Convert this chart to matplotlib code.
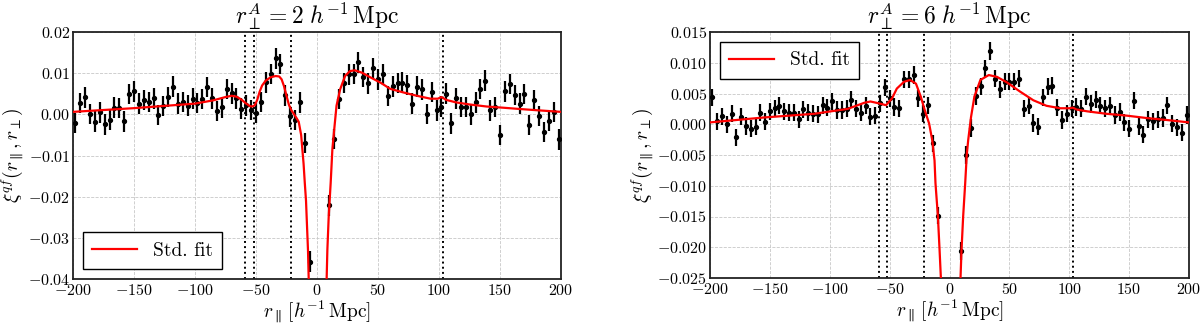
import numpy as np
import matplotlib
matplotlib.use("Agg")
import matplotlib.pyplot as plt
from matplotlib.ticker import MultipleLocator, FuncFormatter

plt.rcParams['font.family'] = 'serif'
plt.rcParams['font.serif'] = ['cmr10']
plt.rcParams['mathtext.fontset'] = 'cm'
plt.rcParams['axes.formatter.use_mathtext'] = True

# ---------------- data ----------------
r_par = np.arange(-198, 199, 4)  # bin centres [h^-1 Mpc]

# left panel: r_perp = 2 h^-1 Mpc  (values x 1e-3)
xi_left = [-2.1, 2.8, 4.1, 0.1, -1.8, 0.5, -2.4, -1.4, 1.6, 1.5,
           -1.7, 4.9, 5.6, 2.6, 3.5, 3.0, 3.9, -0.2, 2.0, 4.2,
           6.7, 2.6, 3.0, 2.1, 3.8, 2.8, 3.7, 6.6, 3.9, 0.8,
           1.7, 6.2, 5.1, 3.9, 1.4, 2.2, 1.1, 0.3, 3.0, 7.8,
           9.8, 13.6, 12.2, 4.6, -0.5, -1.4, 2.9,
           -7.0, -35.8, -60.0, -70.0, -55.0, -22.1,
           -6.0, 3.7, 7.6, 9.7, 9.8, 12.6, 9.1, 7.5, 11.2, 8.5,
           9.7, 4.5, 6.8, 7.6, 7.7, 7.1, 2.6, 6.7, 6.1, 0.1,
           5.4, 1.0, 1.9, 5.0, -2.2, 3.9, 1.8, 1.8, 0.0, 2.9,
           6.2, 8.2, 1.0, 1.8, -5.0, 5.6, 7.4, 4.7, 2.6, 4.9,
           -2.6, 3.5, -0.4, -4.3, -1.5, 0.6, -6.1]
err_left = 2.5  # x 1e-3

# right panel: r_perp = 6 h^-1 Mpc  (values x 1e-3)
xi_right = [4.4, 0.5, 1.3, 0.0, 1.7, -2.1, 1.2, -0.3, -0.7, -0.4,
            1.9, 0.4, 2.1, 2.6, 3.0, 2.1, 1.9, 1.9, 0.8, 2.4,
            1.9, 1.7, 1.6, 3.1, 2.7, 3.7, 2.3, 2.3, 2.5, 4.0,
            2.5, 1.9, 3.0, 1.2, 1.4, 3.4, 6.0, 4.2, 2.8, 2.6,
            7.3, 7.3, 8.0, 4.2, 1.7, 3.1,
            -3.1, -14.9, -40.0, -50.0, -45.0, -35.0, -20.6,
            -5.0, -0.6, 4.6, 6.2, 9.1, 11.9, 7.4, 5.7, 6.9, 6.9,
            6.9, 7.4, 2.5, 3.0, 0.2, -0.4, 4.4, 6.1, 6.3, 2.7,
            0.7, 1.7, 2.6, 2.8, 2.5, 4.5, 3.3, 4.0, 3.0, 2.6,
            3.0, 1.5, 2.0, 0.3, -0.7, 3.8, -0.3, -1.7, 0.8, 0.5,
            0.8, 1.0, 3.1, 0.1, -0.5, -1.4, 1.5]
err_right = 1.4  # x 1e-3

# best-fit model curves (x 1e-3)
fit_x_left = [-200, -150, -100, -85, -75, -70, -66, -62, -58, -55, -53, -51, -49,
              -47, -45, -42, -38, -34, -31, -29, -27, -25, -23, -21, -19, -17,
              -15, -13, -12, -11, -10, -9, -8.5, -7.4, -6.8, -5, 0, 6, 7.9, 8.5,
              9.6, 11.2, 12.6, 13.4, 14.5, 16, 19, 23, 27, 31, 37, 43, 52, 60,
              71, 82, 93, 99, 102, 106, 114, 125, 139, 153, 166, 180, 200]
fit_y_left = [0.6, 1.5, 2.6, 3.4, 4.2, 4.5, 4.3, 3.6, 2.6, 2.0, 1.9, 2.2, 3.5,
              5.5, 7.0, 8.2, 9.0, 9.3, 9.2, 8.5, 6.8, 4.5, 2.3, 1.0, 0.1, -0.8,
              -1.8, -5.0, -8.5, -12.0, -16.7, -21.0, -24.8, -32.9, -40.0, -50.0, -70.0, -50.0, -40.0, -32.9,
              -24.8, -16.7, -8.5, -5.9, -2.5, 2.1, 6.1, 9.3, 10.5, 10.7, 10.1, 9.1, 7.7, 6.2,
              5.3, 4.5, 3.8, 3.8, 4.2, 3.5, 2.9, 2.4, 1.9, 1.6, 1.3, 1.0, 0.6]

fit_x_right = [-200, -155, -113, -85, -71, -66, -59, -53, -48, -44, -38, -33, -28,
               -24, -21, -17, -14.4, -12.5, -11.7, -9.7, -8.3, -7.2, -5, 0, 6, 9.2,
               10, 11.4, 13.1, 14.4, 15.6, 18, 20.8, 25.8, 32.8, 39.7, 48, 59, 70,
               81, 92.5, 100, 103, 106, 115, 131, 148, 165, 181, 200]
fit_y_right = [0.3, 1.1, 1.7, 2.5, 3.5, 3.7, 3.4, 3.1, 4.2, 5.8, 6.9, 7.2, 6.6,
               4.5, 2.5, 0.1, -2.6, -5.9, -9.6, -14.9, -20.4, -25.0, -35.0, -45.0, -35.0, -25.0,
               -20.6, -15.0, -9.6, -5.0, -2.6, 1.2, 4.5, 7.2, 8.0, 7.7, 6.8, 5.3, 3.9,
               3.0, 2.6, 2.6, 2.7, 2.4, 2.1, 1.7, 1.4, 1.0, 0.7, 0.3]

vlines = [-59, -52, -21, 103]
titles = [r'$r_\perp^A = 2\ h^{-1}\,\mathrm{Mpc}$', r'$r_\perp^A = 6\ h^{-1}\,\mathrm{Mpc}$']
ylims = [(-0.04, 0.02), (-0.025, 0.015)]
ysteps = [0.01, 0.005]
yfmts = ['%.2f', '%.3f']
legend_locs = ['lower left', 'upper left']

# ---------------- figure ----------------
fig = plt.figure(figsize=(12, 3.25), dpi=100)
axL = fig.add_axes([73/1200, 1-279/325, (561-73)/1200, (279-32)/325])
axR = fig.add_axes([710/1200, 1-278/325, (1189-710)/1200, (278-32)/325])

panels = [
    (axL, xi_left, err_left, fit_x_left, fit_y_left),
    (axR, xi_right, err_right, fit_x_right, fit_y_right),
]

for i, (ax, xi, err, fx, fy) in enumerate(panels):
    xi = np.asarray(xi) * 1e-3
    ax.errorbar(r_par, xi, yerr=err * 1e-3, fmt='o', color='black', ms=2.8,
                elinewidth=1.6, capsize=0, zorder=3)
    ax.plot(fx, np.asarray(fy) * 1e-3, color='red', lw=1.6, zorder=4, label='Std. fit')
    for v in vlines:
        ax.axvline(v, color='black', ls=':', lw=1.4, zorder=2)
    ax.set_xlim(-200, 200)
    ax.set_ylim(*ylims[i])
    ax.xaxis.set_major_locator(MultipleLocator(50))
    ax.yaxis.set_major_locator(MultipleLocator(ysteps[i]))
    fmt = yfmts[i]
    ax.yaxis.set_major_formatter(FuncFormatter(lambda v, p, f=fmt: r'$%s$' % (f % v if abs(v) > 1e-12 else f % 0.0)))
    ax.xaxis.set_major_formatter(FuncFormatter(lambda v, p: r'$%d$' % round(v)))
    ax.grid(True, color='#c8c8c8', ls='--', lw=0.6)
    ax.set_axisbelow(True)
    ax.tick_params(length=0, labelsize=11.5)
    ax.tick_params(axis='y', pad=2)
    ax.tick_params(axis='x', pad=3)
    for s in ax.spines.values():
        s.set_linewidth(1.3)
        s.set_color('#222222')
    ax.set_title(titles[i], fontsize=17, pad=2)
    ax.set_xlabel(r'$r_\parallel\,[h^{-1}\,\mathrm{Mpc}]$', fontsize=14, labelpad=0)
    ax.set_ylabel(r'$\xi^{qf}(r_\parallel, r_\perp)$', fontsize=14, labelpad=1)
    leg = ax.legend(loc=legend_locs[i], fontsize=14, fancybox=False, framealpha=1,
                    edgecolor='black', handlelength=2.3, borderpad=0.5)
    leg.get_frame().set_linewidth(1.0)

fig.savefig('out.png', dpi=100)
